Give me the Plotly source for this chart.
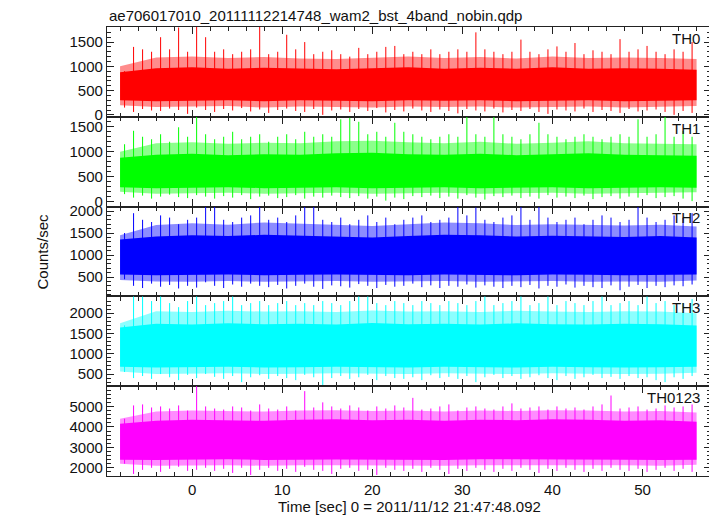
import plotly.graph_objects as go
from plotly.subplots import make_subplots

# ---------------- data (1-s bins, per-bin max / min) -------------
T = list(range(-8, 56))  # bin start times [sec]

TH0_HI = [900, 1400, 1350, 1300, 1600, 1350, 1800, 1300,
          1900, 1600, 1300, 1350, 1250, 1300, 1350, 1900,
          1250, 1300, 1650, 1350, 1500, 1250, 1300, 1330,
          1250, 1200, 1380, 1250, 1300, 1400, 1420, 1250,
          1300, 1250, 1350, 1250, 1300, 1350, 1300, 1700,
          1350, 1300, 1250, 1300, 1550, 1300, 1250, 1350,
          1410, 1300, 1480, 1250, 1330, 1300, 1250, 1560,
          1300, 1350, 1420, 1300, 1250, 1350, 1300, 1500]
TH0_LO = [150, 60, 120, 90, 80, 130, 100, 20,
          150, 100, 60, 120, 90, 140, 70, 110,
          40, 100, 130, 80, 60, 120, 0, 90,
          110, 60, 120, 80, 140, 50, 100, 70,
          130, 90, 60, 110, 80, 30, 120, 90,
          70, 130, 50, 100, 80, 120, 60, 20,
          110, 90, 70, 130, 60, 100, 80, 40,
          120, 70, 90, 110, 60, 0, 80, 40]

TH1_HI = [1150, 1420, 1300, 1250, 1350, 1200, 1490, 1300,
          1750, 1350, 1250, 1300, 1400, 1250, 1300, 1350,
          1200, 1300, 1350, 1250, 1400, 1300, 1350, 1300,
          1650, 1680, 1600, 1350, 1400, 1300, 1580, 1400,
          1350, 1300, 1250, 1300, 1350, 1300, 1750, 1350,
          1300, 1750, 1350, 1300, 1250, 1350, 1580, 1350,
          1300, 1250, 1300, 1350, 1300, 1250, 1300, 1350,
          1300, 1650, 1300, 1350, 1750, 1300, 1420, 1300]
TH1_LO = [150, 80, 120, 60, 100, 140, 90, 70,
          130, 100, 60, 110, 80, 130, 50, 100,
          120, 70, 90, 130, 60, 100, 80, 120,
          90, 70, 110, 60, 100, 20, 80, 50,
          110, 90, 120, 70, 100, 60, 130, 80,
          40, 110, 90, 120, 70, 100, 60, 130,
          80, 100, 70, 120, 50, 90, 110, 60,
          100, 80, 130, 70, 90, 110, 60, 10]

TH2_HI = [1500, 1950, 1800, 1750, 1900, 1850, 1700, 1800,
          1850, 2150, 2150, 1800, 1750, 1850, 1900, 2150,
          1800, 1850, 1750, 1900, 2150, 2150, 1800, 1750,
          1850, 1700, 1800, 1900, 1750, 1850, 1700, 1800,
          1850, 1900, 1750, 1800, 1850, 2150, 1900, 2080,
          1800, 1750, 1850, 1900, 2150, 1800, 2150, 1850,
          1750, 1800, 1850, 1700, 1800, 1900, 1850, 1750,
          1800, 2150, 1850, 1750, 1800, 1900, 1850, 1950]
TH2_LO = [450, 300, 250, 350, 280, 320, 240, 300,
          260, 380, 300, 250, 330, 280, 350, 300,
          270, 320, 240, 300, 350, 280, 230, 310,
          290, 260, 340, 300, 250, 320, 280, 300,
          350, 270, 310, 250, 300, 280, 330, 260,
          310, 280, 250, 300, 270, 320, 240, 300,
          280, 330, 260, 300, 270, 250, 310, 200,
          280, 320, 250, 300, 270, 310, 290, 330]

TH3_HI = [1700, 2450, 2450, 2300, 2450, 2250, 2150, 2300,
          2450, 2200, 2250, 2300, 2450, 2200, 2250, 2300,
          2200, 2250, 2300, 2200, 2250, 2200, 2300, 2250,
          2200, 2300, 2450, 2450, 2250, 2200, 2300, 2250,
          2200, 2300, 2250, 2200, 2300, 2250, 2200, 2300,
          2450, 2200, 2250, 2300, 2450, 2200, 2250, 2450,
          2200, 2300, 2250, 2200, 2300, 2450, 2200, 2250,
          2300, 2200, 2450, 2250, 2300, 2200, 2250, 2350]
TH3_LO = [550, 400, 450, 380, 500, 420, 350, 480,
          400, 500, 430, 380, 450, 300, 420, 470,
          380, 450, 400, 350, 480, 420, 230, 400,
          450, 380, 420, 480, 350, 450, 400, 380,
          420, 350, 470, 400, 430, 380, 450, 300,
          420, 480, 400, 450, 380, 420, 470, 400,
          350, 450, 380, 420, 480, 400, 430, 380,
          450, 400, 420, 350, 300, 420, 380, 450]

TH0123_HI = [4400, 5050, 5100, 4950, 5000, 4900, 5050, 4800,
             6100, 5000, 4900, 4850, 5000, 4950, 4800, 5100,
             4900, 4850, 5000, 4800, 5750, 4950, 5200, 5000,
             4900, 5050, 4950, 4800, 5000, 4900, 5050, 4950,
             5420, 4850, 4900, 5000, 5100, 4800, 4950, 5000,
             4900, 4850, 5000, 5150, 4900, 4950, 5000, 4850,
             5000, 4900, 4950, 4850, 5000, 5100, 5535, 4900,
             4950, 5000, 4850, 4900, 5050, 4950, 5000, 5100]
TH0123_LO = [2200, 1700, 1900, 2000, 1800, 1950, 2050, 1850,
             1900, 2000, 1850, 1950, 1750, 2000, 1650, 1900,
             2000, 1850, 1950, 1800, 2050, 1900, 1850, 1700,
             1950, 2000, 1850, 1900, 1650, 2000, 1900, 1850,
             1950, 1800, 2000, 1900, 1700, 1950, 1850, 2000,
             1900, 1800, 1950, 1850, 2000, 1900, 1750, 1950,
             1850, 2000, 1900, 1800, 1950, 1850, 2000, 1900,
             1850, 1950, 1800, 1900, 2000, 1850, 1950, 1800]

# 4-s resolution: dense (solid) core and lighter fringe of each light curve
CORE_T = [-8, -4, 0, 4, 8, 12, 16, 20, 24, 28, 32, 36, 40, 44, 48, 52, 56]
TH0_CORE_LO = [300, 280, 290, 300, 280, 300, 290, 280, 300, 290, 300, 280, 290, 300, 280, 290, 300]
TH0_CORE_HI = [880, 960, 980, 950, 970, 950, 940, 960, 980, 950, 970, 950, 980, 950, 960, 950, 930]
TH0_FR_LO = [200, 160, 170, 180, 150, 170, 160, 150, 170, 160, 170, 150, 160, 170, 150, 160, 180]
TH0_FR_HI = [1000, 1180, 1200, 1170, 1190, 1160, 1150, 1180, 1200, 1170, 1190, 1160, 1200, 1170, 1180, 1170, 1150]
TH1_CORE_LO = [290, 270, 280, 290, 270, 280, 290, 270, 280, 290, 270, 280, 290, 270, 280, 290, 280]
TH1_CORE_HI = [880, 940, 960, 930, 950, 940, 970, 980, 950, 940, 960, 930, 950, 970, 940, 930, 920]
TH1_FR_LO = [200, 160, 170, 180, 160, 170, 180, 160, 170, 180, 160, 170, 180, 160, 170, 180, 190]
TH1_FR_HI = [1000, 1170, 1190, 1160, 1180, 1170, 1210, 1220, 1190, 1170, 1200, 1160, 1180, 1210, 1170, 1160, 1150]
TH2_CORE_LO = [560, 540, 550, 560, 540, 550, 560, 550, 540, 560, 550, 540, 560, 550, 540, 550, 560]
TH2_CORE_HI = [1350, 1420, 1450, 1430, 1460, 1440, 1420, 1400, 1430, 1460, 1450, 1420, 1440, 1430, 1410, 1430, 1400]
TH2_FR_LO = [430, 400, 390, 410, 390, 400, 410, 390, 400, 410, 390, 400, 410, 390, 400, 390, 420]
TH2_FR_HI = [1450, 1680, 1720, 1690, 1740, 1710, 1680, 1660, 1700, 1740, 1720, 1680, 1700, 1690, 1670, 1690, 1650]
TH3_CORE_LO = [680, 660, 670, 680, 660, 670, 680, 670, 660, 680, 670, 660, 680, 670, 660, 670, 680]
TH3_CORE_HI = [1650, 1740, 1720, 1750, 1730, 1740, 1720, 1760, 1730, 1740, 1720, 1750, 1730, 1720, 1740, 1730, 1700]
TH3_FR_LO = [560, 500, 510, 520, 500, 510, 520, 510, 500, 520, 510, 500, 520, 510, 500, 510, 530]
TH3_FR_HI = [1750, 2050, 2030, 2060, 2040, 2050, 2030, 2070, 2040, 2050, 2030, 2060, 2040, 2030, 2050, 2040, 2000]
TH0123_CORE_LO = [2400, 2380, 2400, 2420, 2380, 2400, 2410, 2390, 2400, 2380, 2420, 2400, 2390, 2410, 2400, 2380, 2400]
TH0123_CORE_HI = [4150, 4300, 4350, 4330, 4300, 4350, 4370, 4330, 4350, 4300, 4350, 4330, 4370, 4350, 4300, 4330, 4250]
TH0123_FR_LO = [2200, 2100, 2120, 2130, 2100, 2120, 2130, 2110, 2120, 2100, 2130, 2120, 2110, 2130, 2120, 2100, 2150]
TH0123_FR_HI = [4400, 4750, 4800, 4770, 4750, 4800, 4820, 4780, 4800, 4750, 4800, 4780, 4820, 4800, 4750, 4780, 4700]

NAMES = ["TH0", "TH1", "TH2", "TH3", "TH0123"]
COLORS = ["#ff0000", "#00ff00", "#0000ff", "#00ffff", "#ff00ff"]
HAZE = ["rgba(255,0,0,0.45)", "rgba(0,255,0,0.45)", "rgba(0,0,255,0.45)",
        "rgba(0,255,255,0.45)", "rgba(255,0,255,0.45)"]
HIS = [TH0_HI, TH1_HI, TH2_HI, TH3_HI, TH0123_HI]
LOS = [TH0_LO, TH1_LO, TH2_LO, TH3_LO, TH0123_LO]
CORE_LOS = [TH0_CORE_LO, TH1_CORE_LO, TH2_CORE_LO, TH3_CORE_LO, TH0123_CORE_LO]
CORE_HIS = [TH0_CORE_HI, TH1_CORE_HI, TH2_CORE_HI, TH3_CORE_HI, TH0123_CORE_HI]
FR_LOS = [TH0_FR_LO, TH1_FR_LO, TH2_FR_LO, TH3_FR_LO, TH0123_FR_LO]
FR_HIS = [TH0_FR_HI, TH1_FR_HI, TH2_FR_HI, TH3_FR_HI, TH0123_FR_HI]
YRANGES = [[-40, 1810], [-100, 1700], [60, 2100], [200, 2415], [1600, 5990]]
YDTICK = [500, 500, 500, 500, 1000]
YMINOR = [100, 100, 100, 100, 200]

TITLE = "ae706017010_20111112214748_wam2_bst_4band_nobin.qdp"
XTITLE = "Time [sec] 0 = 2011/11/12 21:47:48.092"
YTITLE = "Counts/sec"

FONT = "Liberation Sans, Arial, Helvetica, sans-serif"

fig = make_subplots(rows=5, cols=1, shared_xaxes=True, vertical_spacing=0)

for k in range(5):
    r = k + 1
    hi, lo = HIS[k], LOS[k]
    # lighter fringe
    fig.add_trace(go.Scatter(x=CORE_T + CORE_T[::-1], y=FR_HIS[k] + FR_LOS[k][::-1],
                             fill="toself", fillcolor=HAZE[k], line=dict(width=0),
                             mode="lines", hoverinfo="skip", showlegend=False), row=r, col=1)
    # dense core
    fig.add_trace(go.Scatter(x=CORE_T + CORE_T[::-1], y=CORE_HIS[k] + CORE_LOS[k][::-1],
                             fill="toself", fillcolor=COLORS[k], line=dict(width=0),
                             mode="lines", hoverinfo="skip", showlegend=False), row=r, col=1)
    # per-bin extremes as vertical spikes
    xs, ys = [], []
    for t, a, b in zip(T, lo, hi):
        xs += [t + 0.5, t + 0.5, None]
        ys += [a, b, None]
    fig.add_trace(go.Scatter(x=xs, y=ys, mode="lines", line=dict(color=COLORS[k], width=1),
                             connectgaps=False, hoverinfo="skip", showlegend=False), row=r, col=1)

    fig.update_yaxes(row=r, col=1, range=YRANGES[k], dtick=YDTICK[k], tick0=0,
                     ticks="inside", ticklen=7, tickwidth=1, tickcolor="#222",
                     minor=dict(ticks="inside", ticklen=4, dtick=YMINOR[k], tickcolor="#222"),
                     showline=True, linecolor="#222", linewidth=1.3, mirror="allticks",
                     showgrid=False, zeroline=False, automargin=False,
                     tickfont=dict(family=FONT, size=15, color="#111"))
    fig.add_annotation(text=NAMES[k], xref="x domain", yref="y domain" if r == 1 else f"y{r} domain",
                       x=0.985, y=0.99, xanchor="right", yanchor="top", showarrow=False,
                       font=dict(family=FONT, size=15, color="#111"))

fig.update_xaxes(range=[-9.45, 57.6], dtick=10, tick0=0, ticks="inside", ticklen=7,
                 tickwidth=1, tickcolor="#222",
                 minor=dict(ticks="inside", ticklen=4, dtick=2, tickcolor="#222"),
                 showline=True, linecolor="#222", linewidth=1.3, mirror="allticks",
                 showgrid=False, zeroline=False, automargin=False,
                 tickfont=dict(family=FONT, size=15, color="#111"))

fig.add_annotation(text=TITLE, xref="paper", yref="paper", x=0, y=1, xanchor="left",
                   yanchor="bottom", yshift=1, showarrow=False,
                   font=dict(family=FONT, size=15, color="#111"))
fig.add_annotation(text=XTITLE, xref="paper", yref="paper", x=0.5, y=0, xanchor="center",
                   yanchor="top", yshift=-20, showarrow=False,
                   font=dict(family=FONT, size=15, color="#111"))
fig.add_annotation(text=YTITLE, xref="paper", yref="paper", x=0, y=0.5, xanchor="center",
                   yanchor="middle", xshift=-65, textangle=-90, showarrow=False,
                   font=dict(family=FONT, size=15, color="#111"))

# page body adds an 8-px offset, so the figure is 8 px smaller with matching margins
fig.update_layout(width=709, height=508, margin=dict(l=99, r=6, t=19, b=40),
                  paper_bgcolor="white", plot_bgcolor="white")

fig.write_html("out.html")
